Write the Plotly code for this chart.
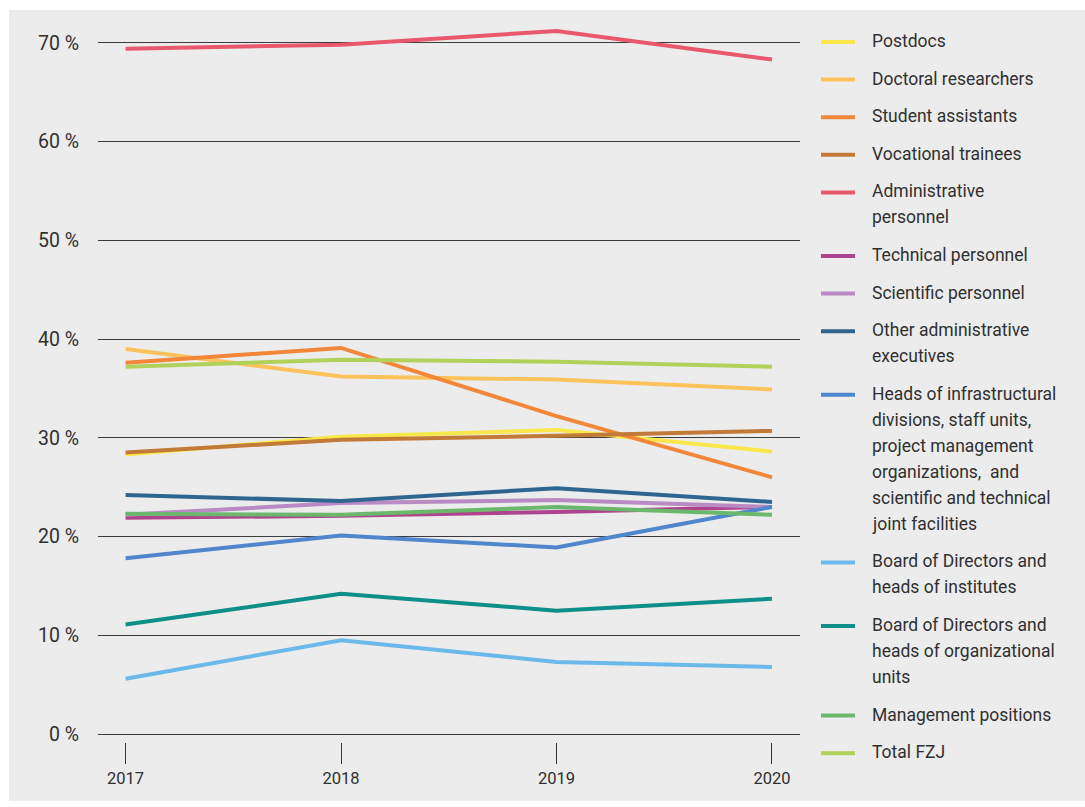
import plotly.graph_objects as go

years = [2017, 2018, 2019, 2020]

postdocs = [28.3, 30.1, 30.8, 28.6]
doctoral = [39.0, 36.2, 35.9, 34.9]
student = [37.6, 39.1, 32.2, 26.0]
vocational = [28.5, 29.8, 30.2, 30.7]
administrative = [69.4, 69.8, 71.2, 68.3]
technical = [21.9, 22.1, 22.5, 23.0]
scientific = [22.2, 23.4, 23.7, 23.0]
other_admin = [24.2, 23.6, 24.9, 23.5]
heads_infra = [17.8, 20.1, 18.9, 23.0]
board_institutes = [5.6, 9.5, 7.3, 6.8]
board_org_units = [11.1, 14.2, 12.5, 13.7]
management = [22.3, 22.2, 23.0, 22.2]
total_fzj = [37.2, 37.9, 37.7, 37.2]

series_names = [
    ["Postdocs"],
    ["Doctoral researchers"],
    ["Student assistants"],
    ["Vocational trainees"],
    ["Administrative", "personnel"],
    ["Technical personnel"],
    ["Scientific personnel"],
    ["Other administrative", "executives"],
    ["Heads of infrastructural", "divisions, staff units,", "project management",
     "organizations,  and", "scientific and technical", "joint facilities"],
    ["Board of Directors and", "heads of institutes"],
    ["Board of Directors and", "heads of organizational", "units"],
    ["Management positions"],
    ["Total FZJ"],
]
series_values = [postdocs, doctoral, student, vocational, administrative, technical,
                 scientific, other_admin, heads_infra, board_institutes,
                 board_org_units, management, total_fzj]
series_colors = ["#f8e84c", "#fcc35c", "#f2873a", "#c27a38", "#e8596e", "#b0438e",
                 "#b98ac4", "#2f6690", "#4f86cc", "#6ab9ea", "#0e9088", "#6bb86c",
                 "#b2d15a"]

y_ticks = [0, 10, 20, 30, 40, 50, 60, 70]
y_ticktext = [f"{v} %" for v in y_ticks]

# layout geometry (pixels)
W, H = 1085, 807
L, R_EDGE = 98, 800
TOP, BOT = 23, 742


def px_x(px):
    return (px - L) / (R_EDGE - L)


def px_y(py):
    return (BOT - py) / (BOT - TOP)


FONT = "Roboto, Open Sans, sans-serif"
TXT = "#303030"

fig = go.Figure()
for names, vals, col in zip(series_names, series_values, series_colors):
    fig.add_trace(go.Scatter(
        x=years, y=vals, mode="lines", name=" ".join(names),
        line=dict(color=col, width=4), showlegend=False,
        hoverinfo="name+y"))

shapes = [dict(type="rect", xref="paper", yref="paper",
               x0=px_x(9), x1=px_x(1090), y0=px_y(801), y1=px_y(10),
               fillcolor="#ececec", line=dict(width=0), layer="below")]
annotations = []
y_cur = 41
for names, col in zip(series_names, series_colors):
    shapes.append(dict(type="line", xref="paper", yref="paper",
                       x0=px_x(821), x1=px_x(855), y0=px_y(y_cur + 1), y1=px_y(y_cur + 1),
                       line=dict(color=col, width=4)))
    for i, t in enumerate(names):
        annotations.append(dict(text=t, xref="paper", yref="paper",
                                x=px_x(870), y=px_y(y_cur + i * 26),
                                xanchor="left", yanchor="middle", showarrow=False,
                                font=dict(family=FONT, size=17.5, color=TXT)))
    y_cur += (len(names) - 1) * 26 + 37.6

fig.update_layout(
    width=W, height=H,
    margin=dict(l=L, r=W - R_EDGE, t=TOP, b=H - BOT, pad=0),
    paper_bgcolor="white", plot_bgcolor="rgba(0,0,0,0)",
    shapes=shapes, annotations=annotations,
    font=dict(family=FONT, color=TXT),
    xaxis=dict(range=[2016.872, 2020.13], tickvals=years,
               ticktext=[str(y) for y in years],
               showgrid=False, zeroline=False, showline=False,
               ticks="outside", ticklen=21, tickwidth=1, tickcolor="#333",
               tickfont=dict(size=16.5, color=TXT)),
    yaxis=dict(range=[-0.8, 72], tickvals=y_ticks, ticktext=y_ticktext,
               showgrid=True, gridcolor="#3c3c3c", gridwidth=1.3,
               zeroline=False, showline=False, ticks="",
               ticklabelstandoff=18,
               tickfont=dict(size=19.5, color=TXT)),
    showlegend=False,
)

fig.write_html("out.html")
